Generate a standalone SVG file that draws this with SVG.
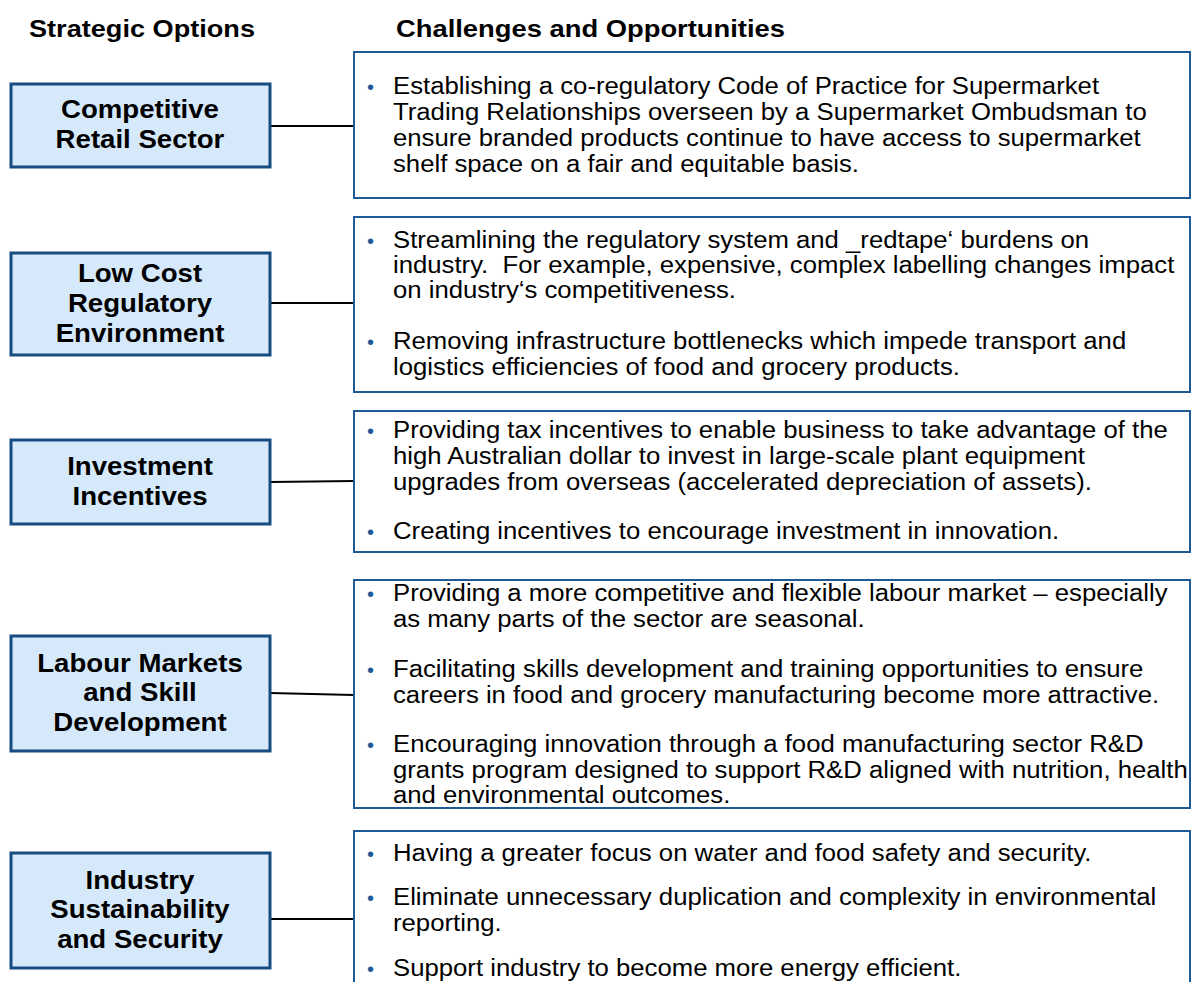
<svg xmlns="http://www.w3.org/2000/svg" width="1192" height="982" viewBox="0 0 1192 982">
<style>
.hdr{font-family:"Liberation Sans",Arial,sans-serif;font-weight:bold;font-size:24px;fill:#000}
.opt rect{fill:#D5E9FB;stroke:#174C80;stroke-width:3}
.opt text{font-family:"Liberation Sans",Arial,sans-serif;font-weight:bold;font-size:25.5px;fill:#000;text-anchor:middle}
.ch rect{fill:#fff;stroke:#1F5A96;stroke-width:2}
.ch text{font-family:"Liberation Sans",Arial,sans-serif;font-size:24.5px;fill:#000}
.ch .b{fill:#1F5A96;font-size:20px}
.conn line{stroke:#000;stroke-width:2}
</style>
<rect width="1192" height="982" fill="#fff"/>
<text class="hdr" x="29" y="37" textLength="226" lengthAdjust="spacingAndGlyphs">Strategic Options</text>
<text class="hdr" x="396" y="37" textLength="389" lengthAdjust="spacingAndGlyphs">Challenges and Opportunities</text>

<g id="conn" class="conn">
<line x1="270" y1="126" x2="354" y2="126"/>
<line x1="270" y1="303" x2="354" y2="303"/>
<line x1="270" y1="482" x2="354" y2="481"/>
<line x1="270" y1="693" x2="354" y2="695"/>
<line x1="270" y1="919" x2="354" y2="919"/>
</g>

<g id="opt1" class="opt"><rect x="11" y="84" width="259" height="83"/>
<g transform="matrix(1.083 0 0 1 -11.62 0)"><text x="140" y="118">Competitive</text><text x="140" y="148">Retail Sector</text></g></g>
<g id="opt2" class="opt"><rect x="11" y="253" width="259" height="102"/>
<g transform="matrix(1.083 0 0 1 -11.62 0)"><text x="140" y="282">Low Cost</text><text x="140" y="312">Regulatory</text><text x="140" y="342">Environment</text></g></g>
<g id="opt3" class="opt"><rect x="11" y="440" width="259" height="84"/>
<g transform="matrix(1.083 0 0 1 -11.62 0)"><text x="140" y="475">Investment</text><text x="140" y="505">Incentives</text></g></g>
<g id="opt4" class="opt"><rect x="11" y="636" width="259" height="115"/>
<g transform="matrix(1.083 0 0 1 -11.62 0)"><text x="140" y="672">Labour Markets</text><text x="140" y="701">and Skill</text><text x="140" y="731">Development</text></g></g>
<g id="opt5" class="opt"><rect x="11" y="853" width="259" height="115"/>
<g transform="matrix(1.083 0 0 1 -11.62 0)"><text x="140" y="889">Industry</text><text x="140" y="918">Sustainability</text><text x="140" y="948">and Security</text></g></g>

<g id="ch1" class="ch"><rect x="354" y="52" width="836" height="146"/>
<text class="b" x="367" y="94">•</text>
<g transform="matrix(1.05 0 0 1 -19.65 0)">
<text x="393" y="94">Establishing a co-regulatory Code of Practice for Supermarket</text>
<text x="393" y="120">Trading Relationships overseen by a Supermarket Ombudsman to</text>
<text x="393" y="146">ensure branded products continue to have access to supermarket</text>
<text x="393" y="172">shelf space on a fair and equitable basis.</text></g></g>

<g id="ch2" class="ch"><rect x="354" y="217" width="836" height="175"/>
<text class="b" x="367" y="248">•</text>
<text class="b" x="367" y="349">•</text>
<g transform="matrix(1.05 0 0 1 -19.65 0)">
<text x="393" y="248">Streamlining the regulatory system and _redtape‘ burdens on</text>
<text x="393" y="273">industry.&#160; For example, expensive, complex labelling changes impact</text>
<text x="393" y="298">on industry‘s competitiveness.</text>
<text x="393" y="349">Removing infrastructure bottlenecks which impede transport and</text>
<text x="393" y="375">logistics efficiencies of food and grocery products.</text></g></g>

<g id="ch3" class="ch"><rect x="354" y="411" width="836" height="141"/>
<text class="b" x="367" y="438">•</text>
<text class="b" x="367" y="539">•</text>
<g transform="matrix(1.05 0 0 1 -19.65 0)">
<text x="393" y="438">Providing tax incentives to enable business to take advantage of the</text>
<text x="393" y="464">high Australian dollar to invest in large-scale plant equipment</text>
<text x="393" y="490">upgrades from overseas (accelerated depreciation of assets).</text>
<text x="393" y="539">Creating incentives to encourage investment in innovation.</text></g></g>

<g id="ch4" class="ch"><rect x="354" y="580" width="836" height="228"/>
<text class="b" x="367" y="601">•</text>
<text class="b" x="367" y="677">•</text>
<text class="b" x="367" y="752">•</text>
<g transform="matrix(1.05 0 0 1 -19.65 0)">
<text x="393" y="601">Providing a more competitive and flexible labour market – especially</text>
<text x="393" y="627">as many parts of the sector are seasonal.</text>
<text x="393" y="677">Facilitating skills development and training opportunities to ensure</text>
<text x="393" y="703">careers in food and grocery manufacturing become more attractive.</text>
<text x="393" y="752">Encouraging innovation through a food manufacturing sector R&amp;D</text>
<text x="393" y="778">grants program designed to support R&amp;D aligned with nutrition, health</text>
<text x="393" y="803">and environmental outcomes.</text></g></g>

<g id="ch5" class="ch"><rect x="354" y="831" width="836" height="170"/>
<text class="b" x="367" y="861">•</text>
<text class="b" x="367" y="905">•</text>
<text class="b" x="367" y="976">•</text>
<g transform="matrix(1.05 0 0 1 -19.65 0)">
<text x="393" y="861">Having a greater focus on water and food safety and security.</text>
<text x="393" y="905">Eliminate unnecessary duplication and complexity in environmental</text>
<text x="393" y="931">reporting.</text>
<text x="393" y="976">Support industry to become more energy efficient.</text></g></g>
</svg>
